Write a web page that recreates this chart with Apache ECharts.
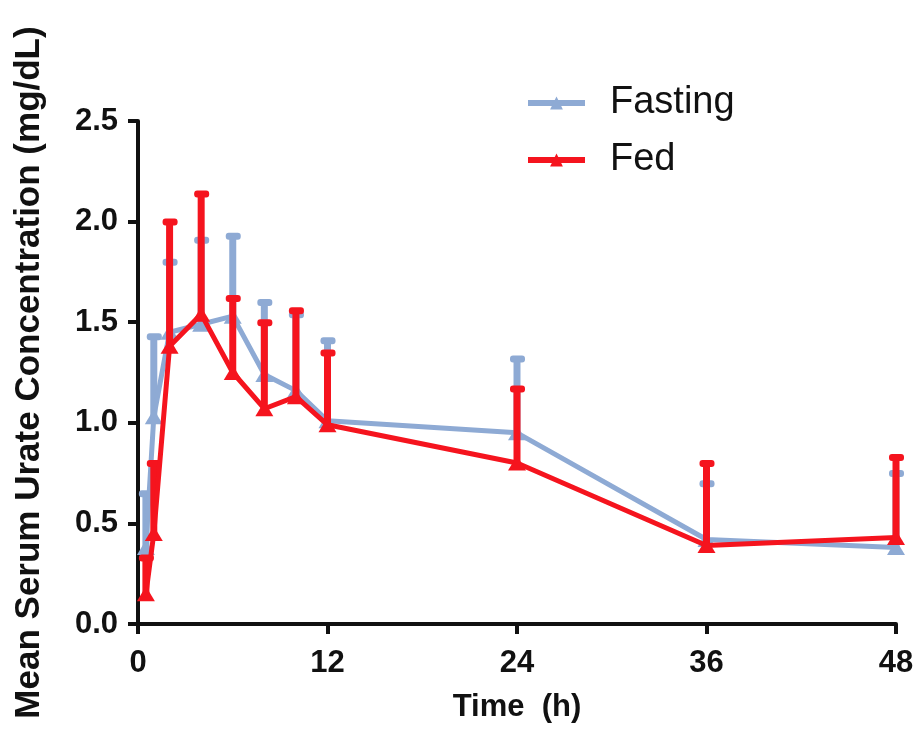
<!DOCTYPE html>
<html>
<head>
<meta charset="utf-8">
<script src="https://cdn.jsdelivr.net/npm/echarts@6/dist/echarts.min.js"></script>
<style>
  html, body { margin: 0; padding: 0; background: #fff; }
  #chart { width: 919px; height: 735px; }
</style>
</head>
<body>
<div id="chart"></div>
<script>
// sampling times (h)
const times = [0.5, 1, 2, 4, 6, 8, 10, 12, 24, 36, 48];

// mean serum urate (mg/dL) and upper SD
const fastingMean = [0.38, 1.03, 1.45, 1.49, 1.53, 1.24, 1.16, 1.01, 0.95, 0.42, 0.38];
const fastingSD   = [0.27, 0.40, 0.35, 0.42, 0.40, 0.36, 0.38, 0.40, 0.37, 0.28, 0.37];
const fedMean     = [0.15, 0.45, 1.38, 1.54, 1.25, 1.07, 1.13, 0.99, 0.80, 0.39, 0.43];
const fedSD       = [0.18, 0.35, 0.62, 0.60, 0.37, 0.43, 0.43, 0.36, 0.37, 0.41, 0.40];

const yTicks = ['0.0', '0.5', '1.0', '1.5', '2.0', '2.5'];

const FAST_COLOR = '#8eaad4';
const FED_COLOR = '#f5141e';
const FONT = '"Liberation Sans", Arial, sans-serif';

function pairs(means) {
    return times.map((t, i) => [t, means[i]]);
}

function errData(means, sds) {
    return times.map((t, i) => [t, means[i], means[i] + sds[i]]);
}

function errRenderer(color) {
    return function(params, api) {
        const lo = api.coord([api.value(0), api.value(1)]);
        const hi = api.coord([api.value(0), api.value(2)]);
        return {
            type: 'group',
            children: [
                {
                    type: 'line',
                    shape: { x1: lo[0], y1: lo[1], x2: hi[0], y2: hi[1] },
                    style: { stroke: color, lineWidth: 7 }
                },
                {
                    type: 'rect',
                    shape: { x: hi[0] - 7, y: hi[1] - 3, width: 15, height: 7, r: 3 },
                    style: { fill: color }
                }
            ]
        };
    };
}

const chart = echarts.init(document.getElementById('chart'), null, { renderer: 'canvas' });

chart.setOption({
    backgroundColor: '#fff',
    animation: false,
    grid: { left: 138, right: 23, top: 121, bottom: 111, containLabel: false },
    legend: {
        data: ['Fasting', 'Fed'],
        orient: 'vertical',
        left: 520,
        top: 79,
        itemWidth: 57,
        itemHeight: 16,
        itemGap: 19,
        lineStyle: { width: 6 },
        textStyle: { fontFamily: FONT, fontSize: 38, color: '#111', padding: [0, 0, 0, 20] }
    },
    xAxis: {
        type: 'value',
        min: 0,
        max: 48,
        interval: 12,
        name: 'Time  (h)',
        nameLocation: 'middle',
        nameGap: 68,
        nameTextStyle: { fontFamily: FONT, fontSize: 31, fontWeight: 'bold', color: '#111' },
        axisLine: { show: true, lineStyle: { color: '#111', width: 4 } },
        axisTick: { show: true, length: 10, lineStyle: { color: '#111', width: 4 } },
        axisLabel: { fontFamily: FONT, fontSize: 31, fontWeight: 'bold', color: '#111', margin: 24 },
        splitLine: { show: false }
    },
    yAxis: {
        type: 'value',
        min: 0,
        max: 2.5,
        interval: 0.5,
        name: 'Mean Serum Urate Concentration (mg/dL)',
        nameLocation: 'middle',
        nameGap: 91,
        nameTextStyle: { fontFamily: FONT, fontSize: 35, fontWeight: 'bold', color: '#111' },
        axisLine: { show: true, lineStyle: { color: '#111', width: 4 } },
        axisTick: { show: true, length: 10, lineStyle: { color: '#111', width: 4 } },
        axisLabel: {
            fontFamily: FONT, fontSize: 31, fontWeight: 'bold', color: '#111', margin: 20,
            formatter: (v) => yTicks[Math.round(v / 0.5)]
        },
        splitLine: { show: false }
    },
    series: [
        {
            name: 'Fasting SD',
            type: 'custom',
            renderItem: errRenderer(FAST_COLOR),
            data: errData(fastingMean, fastingSD),
            encode: { x: 0, y: [1, 2] },
            clip: false,
            z: 1
        },
        {
            name: 'Fasting',
            type: 'line',
            data: pairs(fastingMean),
            symbol: 'triangle',
            symbolSize: [18, 15],
            lineStyle: { color: FAST_COLOR, width: 5 },
            itemStyle: { color: FAST_COLOR },
            z: 2
        },
        {
            name: 'Fed SD',
            type: 'custom',
            renderItem: errRenderer(FED_COLOR),
            data: errData(fedMean, fedSD),
            encode: { x: 0, y: [1, 2] },
            clip: false,
            z: 3
        },
        {
            name: 'Fed',
            type: 'line',
            data: pairs(fedMean),
            symbol: 'triangle',
            symbolSize: [18, 15],
            lineStyle: { color: FED_COLOR, width: 5 },
            itemStyle: { color: FED_COLOR },
            z: 4
        }
    ]
});
</script>
</body>
</html>
